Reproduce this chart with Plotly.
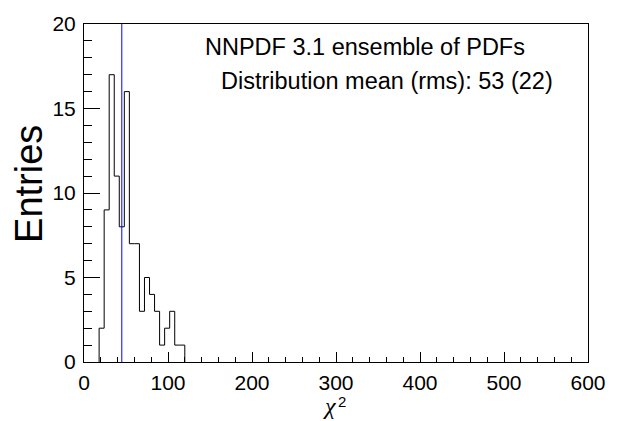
import plotly.graph_objects as go

# Histogram data: chi2 bins (width 6) starting at 18
bin_edges = [18, 24, 30, 36, 42, 48, 54, 60, 66, 72, 78, 84, 90, 96, 102, 108, 114, 120]
counts = [2, 9, 17, 11, 8, 16, 7, 7, 3, 5, 4, 3, 1, 2, 3, 1, 1]
mean_line_x = 45
title_line1 = "NNPDF 3.1 ensemble of PDFs"
title_line2 = "Distribution mean (rms): 53 (22)"

# step outline
xs = [bin_edges[0]] + bin_edges
ys = [0] + counts + [0]

W, H = 619, 421
L, R, T, B = 83.5, 587.7, 17.5, 362.0
pw, ph = R - L, B - T

def px(xp):
    return (xp - L) / pw

def py(yp):
    return (B - yp) / ph

fig = go.Figure()
fig.add_trace(go.Scatter(x=xs, y=ys, mode="lines", line=dict(shape="hv", color="black", width=1),
                         hoverinfo="skip", showlegend=False))
fig.add_trace(go.Scatter(x=[mean_line_x, mean_line_x], y=[0, 20], mode="lines",
                         line=dict(color="#0000ff", width=1), hoverinfo="skip", showlegend=False))

font = "Liberation Sans, Arial, sans-serif"

fig.update_layout(
    width=W, height=H,
    margin=dict(l=L, r=W - R, t=T, b=H - B, pad=0),
    paper_bgcolor="white", plot_bgcolor="white",
    font=dict(family=font, color="black", size=21),
    xaxis=dict(range=[0, 600], showgrid=False, zeroline=False, showline=True, mirror=True,
               linecolor="black", linewidth=1, ticks="inside", ticklen=10, tickcolor="black",
               tickvals=[0, 100, 200, 300, 400, 500, 600], tickfont=dict(size=21),
               ticklabelstandoff=2,
               minor=dict(ticks="inside", ticklen=5, dtick=20, tick0=0, tickcolor="black", showgrid=False)),
    yaxis=dict(range=[0, 20], showgrid=False, zeroline=False, showline=True, mirror=True,
               linecolor="black", linewidth=1, ticks="inside", ticklen=16, tickcolor="black",
               tickvals=[0, 5, 10, 15, 20], tickfont=dict(size=21),
               ticklabelstandoff=3,
               minor=dict(ticks="inside", ticklen=8, dtick=1, tick0=0, tickcolor="black", showgrid=False)),
    annotations=[
        dict(text=title_line1, xref="paper", yref="paper", x=px(202.7), y=py(41),
             xanchor="left", yanchor="middle", showarrow=False, font=dict(size=23.5, family=font)),
        dict(text=title_line2, xref="paper", yref="paper", x=px(219), y=py(76),
             xanchor="left", yanchor="middle", showarrow=False, font=dict(size=23.5, family=font)),
        dict(text="Entries", xref="paper", yref="paper", x=px(29), y=py(181),
             xanchor="center", yanchor="middle", textangle=-90, showarrow=False,
             font=dict(size=38, family=font)),
        dict(text="<i>χ</i>", xref="paper", yref="paper", x=px(338), y=py(421),
             xanchor="right", yanchor="bottom", showarrow=False, borderpad=0,
             font=dict(size=24, family="Liberation Serif, Times New Roman, serif")),
        dict(text="2", xref="paper", yref="paper", x=px(337), y=py(402),
             xanchor="left", yanchor="middle", showarrow=False, borderpad=0,
             font=dict(size=15, family=font)),
    ],
)

fig.write_html("out.html", config={"displayModeBar": False},
               post_script="document.body.style.margin='0';")
